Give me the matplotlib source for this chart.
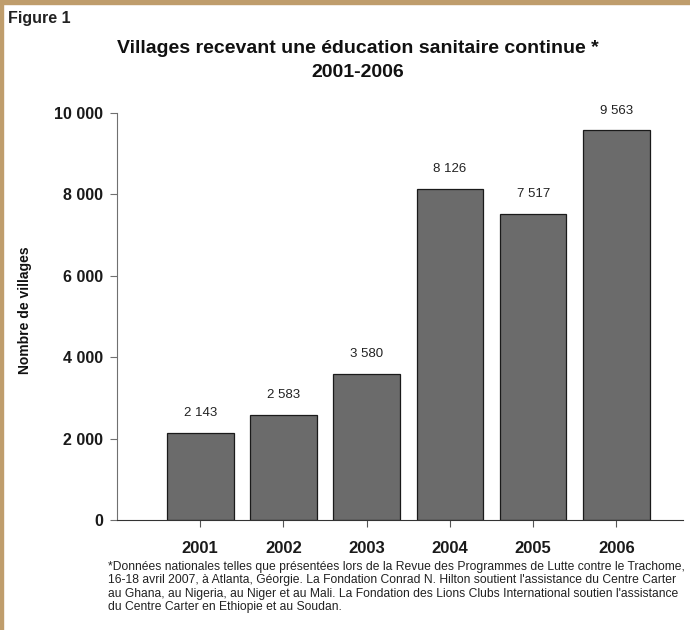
import matplotlib
matplotlib.use("Agg")
import matplotlib.pyplot as plt
from matplotlib.patches import Rectangle

years = ["2001", "2002", "2003", "2004", "2005", "2006"]
villages = [2143, 2583, 3580, 8126, 7517, 9563]
yticks = [0, 2000, 4000, 6000, 8000, 10000]
ytick_labels = ["0", "2 000", "4 000", "6 000", "8 000", "10 000"]
bar_labels = ["2 143", "2 583", "3 580", "8 126", "7 517", "9 563"]

title = "Villages recevant une éducation sanitaire continue *\n2001-2006"
footnote = ("*Données nationales telles que présentées lors de la Revue des Programmes de Lutte contre le Trachome,\n"
            "16-18 avril 2007, à Atlanta, Géorgie. La Fondation Conrad N. Hilton soutient l'assistance du Centre Carter\n"
            "au Ghana, au Nigeria, au Niger et au Mali. La Fondation des Lions Clubs International soutien l'assistance\n"
            "du Centre Carter en Ethiopie et au Soudan.")

plt.rcParams['font.family'] = ['Liberation Sans', 'DejaVu Sans']

fig = plt.figure(figsize=(6.9, 6.3), dpi=100)
fig.patch.set_facecolor("white")

# tan frame on top and left
tan = "#bf9d6c"
fig.patches.append(Rectangle((0, 1 - 4 / 630), 1, 4 / 630, transform=fig.transFigure,
                             color=tan, zorder=0))
fig.patches.append(Rectangle((0, 0), 3.5 / 690, 1, transform=fig.transFigure,
                             color=tan, zorder=0))

ax = fig.add_axes([117 / 690, 1 - 520 / 630, (683 - 117) / 690, (520 - 112.6) / 630])

x = list(range(len(years)))
ax.bar(x, villages, width=0.8, color="#6b6b6b", edgecolor="#1a1a1a", linewidth=0.9, zorder=2)

for xi, v, lab in zip(x, villages, bar_labels):
    ax.annotate(lab, (xi, v), xytext=(0, 10), textcoords="offset points",
                ha="center", va="bottom", fontsize=9.5, color="#222222")

ax.set_xlim(-1.0, 5.8)
ax.set_ylim(0, 10000)
ax.set_yticks(yticks)
ax.set_yticklabels(ytick_labels)
ax.set_xticks(x)
ax.set_xticklabels(years)

for s in ["top", "right"]:
    ax.spines[s].set_visible(False)
ax.spines["left"].set_color("#707070")
ax.spines["bottom"].set_color("#333333")
ax.tick_params(axis="y", length=5, color="#707070", labelsize=11.5, pad=5)
ax.tick_params(axis="x", length=5, color="#555555", labelsize=12, pad=10)
for t in ax.get_yticklabels() + ax.get_xticklabels():
    t.set_fontweight("bold")
    t.set_color("#1a1a1a")

fig.text(25 / 690, 1 - 310 / 630, "Nombre de villages", rotation=90, ha="center", va="center",
         fontsize=10, fontweight="bold", color="#111111")

fig.text(8 / 690, 1 - 18 / 630, "Figure 1", ha="left", va="center",
         fontsize=11.5, fontweight="bold", color="#222222")
fig.text(358 / 690, 1 - 60.5 / 630, title, ha="center", va="center",
         fontsize=14, fontweight="bold", color="#111111", linespacing=1.55)

fig.text(108 / 690, 1 - 587 / 630, footnote, ha="left", va="center",
         fontsize=8.75, color="#222222", linespacing=1.12)

fig.savefig("out.png", dpi=100)
